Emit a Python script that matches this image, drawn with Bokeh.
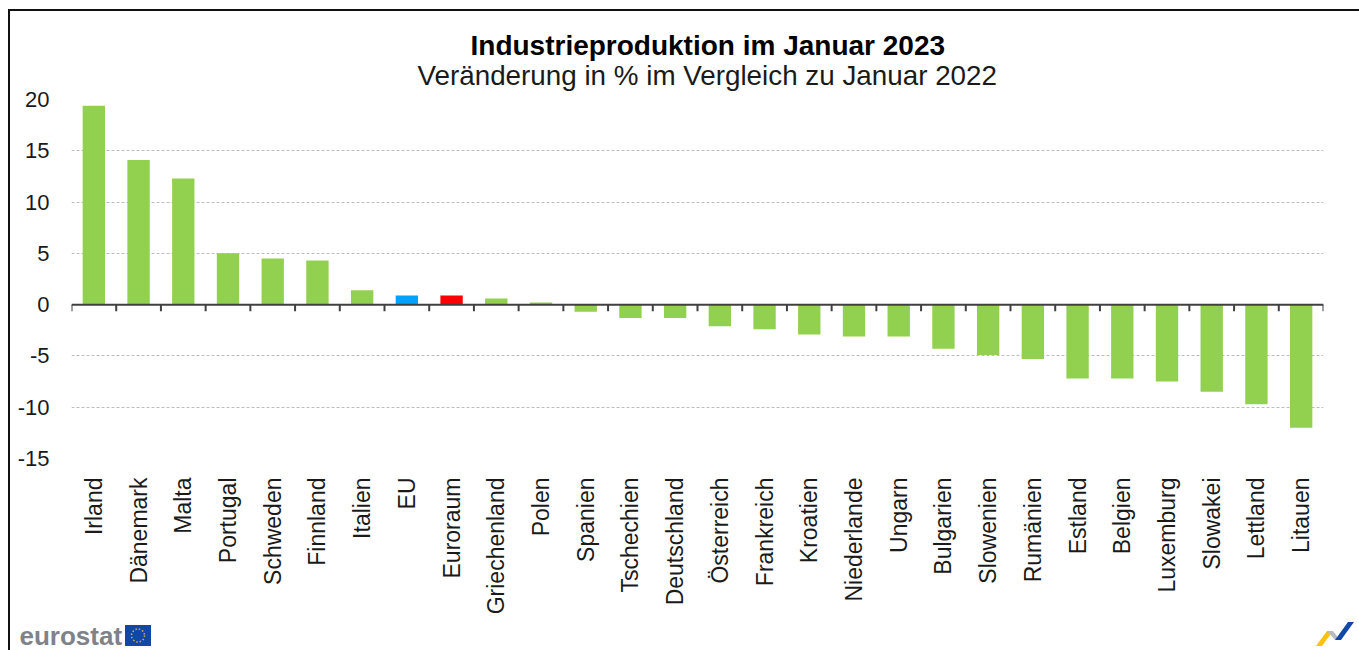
from bokeh.plotting import figure
from bokeh.embed import file_html
from bokeh.resources import INLINE
from bokeh.models import Span, Label, FixedTicker
from math import pi
from urllib.parse import quote

categories = ["Irland", "Dänemark", "Malta", "Portugal", "Schweden", "Finnland", "Italien", "EU", "Euroraum",
              "Griechenland", "Polen", "Spanien", "Tschechien", "Deutschland", "Österreich", "Frankreich",
              "Kroatien", "Niederlande", "Ungarn", "Bulgarien", "Slowenien", "Rumänien", "Estland", "Belgien",
              "Luxemburg", "Slowakei", "Lettland", "Litauen"]
values = [19.4, 14.1, 12.3, 5.0, 4.5, 4.3, 1.4, 0.9, 0.9, 0.6, 0.2, -0.7, -1.3, -1.3, -2.1, -2.4, -2.9,
          -3.1, -3.1, -4.3, -4.9, -5.3, -7.2, -7.2, -7.5, -8.5, -9.7, -12.0]
highlight = {"EU": "#00A2FF", "Euroraum": "#FF0000"}
y_ticks = [-15, -10, -5, 0, 5, 10, 15, 20]
title = "Industrieproduktion im Januar 2023"
subtitle = "Veränderung in % im Vergleich zu Januar 2022"

GREEN = "#92D14F"
FONT = "Liberation Sans"
W, H = 1359, 650
L, R, T, B = 71, 36, 99, 192  # frame margins

# Frame and logos are page decoration: a backdrop behind the transparent canvas
backdrop = f"""<svg xmlns='http://www.w3.org/2000/svg' width='{W}' height='{H}'>
<rect x='8' y='9' width='2' height='641' fill='#111'/>
<rect x='8' y='9' width='1351' height='2' fill='#111'/>
<rect x='125' y='625' width='26' height='21' fill='#1147A8'/>
<circle cx='138' cy='635.5' r='6.5' fill='none' stroke='#C9B04A' stroke-width='1.5' stroke-dasharray='1.5 1.9'/>
<polygon points='1316,646 1327,631 1333,631 1322,646' fill='#FFC20E'/>
<polygon points='1327,631 1333,631 1340,640 1335,640' fill='#B8BCC2'/>
<polygon points='1335,640 1348,622 1354,622 1341,640' fill='#1147A8'/>
</svg>"""

p = figure(width=W, height=H, x_range=categories, y_range=(-15, 20),
           output_backend="svg", toolbar_location=None,
           min_border_left=L, min_border_right=R, min_border_top=T, min_border_bottom=B)
p.x_range.range_padding = 0
p.outline_line_color = None
p.background_fill_color = None
p.border_fill_color = None
p.styles = {"background-image": "url(\"data:image/svg+xml," + quote(backdrop) + "\")",
            "background-repeat": "no-repeat"}

p.xgrid.visible = False
p.ygrid.grid_line_color = "#BDBDBD"
p.ygrid.grid_line_dash = "3 2"
p.ygrid.grid_line_width = 1
p.ygrid.ticker = FixedTicker(ticks=y_ticks)

colors = [highlight.get(c, GREEN) for c in categories]
p.vbar(x=categories, bottom=0, top=values, width=0.5, fill_color=colors, line_color=None)

p.add_layout(Span(location=0, dimension="width", line_color="#404040", line_width=2))
tick_x = [(c, -0.5) for c in categories] + [(categories[-1], 0.5)]
p.segment(x0=tick_x, x1=tick_x, y0=[0] * len(tick_x), y1=[-0.65] * len(tick_x), line_color="#404040", line_width=2)

xa = p.xaxis[0]
xa.axis_line_color = None
xa.major_tick_line_color = None
xa.minor_tick_line_color = None
xa.major_tick_out = 0
xa.major_tick_in = 0
xa.major_label_orientation = pi / 2
xa.major_label_text_font = FONT
xa.major_label_text_font_size = "23px"
xa.major_label_text_color = "#1a1a1a"
xa.major_label_standoff = 19

ya = p.yaxis[0]
ya.ticker = FixedTicker(ticks=y_ticks)
ya.axis_line_color = None
ya.major_tick_line_color = None
ya.minor_tick_line_color = None
ya.major_tick_out = 0
ya.major_tick_in = 0
ya.major_label_text_font = FONT
ya.major_label_text_font_size = "22px"
ya.major_label_text_color = "#1a1a1a"
ya.major_label_standoff = 22
ya.major_label_overrides = {t: str(t) for t in y_ticks}

p.add_layout(Label(x=19 - L, y=-3, x_units="screen", y_units="screen", text="eurostat", text_font=FONT,
                   text_font_size="26px", text_font_style="bold", text_color="#7F8389"), "below")

p.add_layout(Label(x=417 - L, y=24, x_units="screen", y_units="screen", text=subtitle, text_font=FONT,
                   text_font_size="27.8px", text_baseline="middle", text_color="#1a1a1a"), "above")
p.add_layout(Label(x=470 - L, y=23, x_units="screen", y_units="screen", text=title, text_font=FONT,
                   text_font_size="28px", text_font_style="bold", text_baseline="middle",
                   text_color="#000000"), "above")

open("out.html", "w").write(file_html(p, INLINE))
